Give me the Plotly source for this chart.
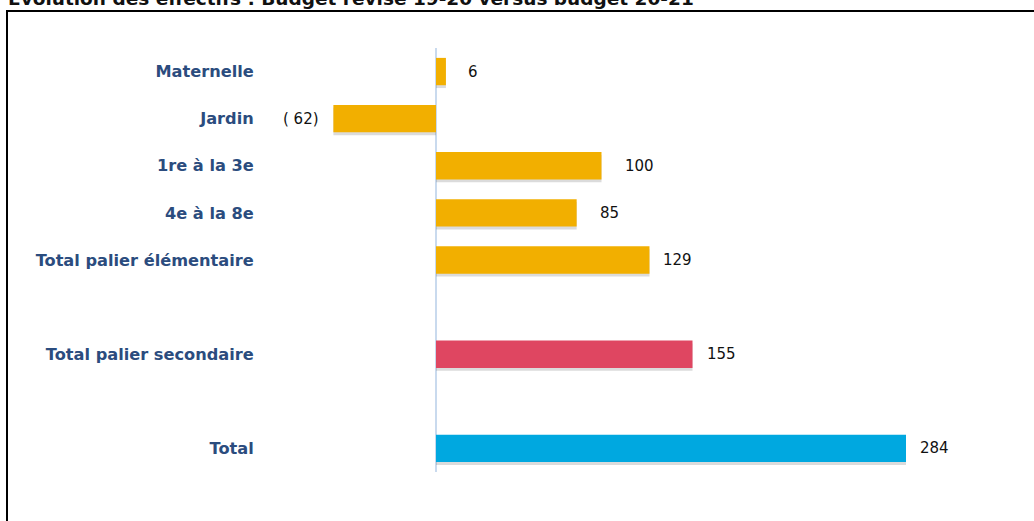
import plotly.graph_objects as go

categories = ["Maternelle", "Jardin", "1re à la 3e", "4e à la 8e",
              "Total palier élémentaire", " ", "Total palier secondaire", "  ", "Total"]
values = [6, -62, 100, 85, 129, None, 155, None, 284]
labels = ["6", "( 62)", "100", "85", "129", "", "155", "", "284"]
colors = ["#F2AF00", "#F2AF00", "#F2AF00", "#F2AF00", "#F2AF00", "#F2AF00",
          "#DF4661", "#DF4661", "#00A8E0"]
title = "Évolution des effectifs : Budget révisé 19-20 versus budget 20-21"

# label gaps (px) from bar end, style only
label_gaps = [20, 12, 22, 21, 12, 0, 12, 0, 12]

W, H = 1034, 521
L, R, T, B = 270, 34, 48, 49
pw, ph = W - L - R, H - T - B
BW = 0.58

def px_x(x):
    return (x - L) / pw

def px_y(y):
    return (H - B - y) / ph

fig = go.Figure()
fig.add_trace(go.Bar(
    y=categories, x=values, orientation="h",
    marker=dict(color="rgba(90,90,90,0.22)", line=dict(width=0)),
    width=BW, offset=-BW / 2 + 0.06, hoverinfo="skip",
))
fig.add_trace(go.Bar(
    y=categories, x=values, orientation="h",
    marker=dict(color=colors, line=dict(width=0)),
    width=BW, offset=-BW / 2, hoverinfo="skip",
))

for cat, v, lab, g in zip(categories, values, labels, label_gaps):
    if v is None:
        continue
    fig.add_annotation(
        x=v, y=cat, text=lab, showarrow=False,
        xanchor="left" if v >= 0 else "right",
        xshift=g if v >= 0 else -g,
        font=dict(family="DejaVu Sans", size=15, color="#111111"),
    )

fig.add_annotation(
    x=px_x(6), y=px_y(11), xref="paper", yref="paper", text="<b>" + title + "</b>",
    showarrow=False, xanchor="left", yanchor="bottom",
    font=dict(family="DejaVu Sans", size=18.5, color="#111111"),
)

fig.add_shape(
    type="rect", xref="paper", yref="paper",
    x0=px_x(7), x1=px_x(1045), y0=px_y(535), y1=px_y(11),
    line=dict(color="black", width=2), fillcolor="rgba(0,0,0,0)", layer="above",
)

fig.update_layout(
    width=W, height=H,
    margin=dict(l=L, r=R, t=T, b=B),
    paper_bgcolor="white", plot_bgcolor="white",
    showlegend=False, barmode="overlay",
    xaxis=dict(range=[-100.3, 340.8], showticklabels=False, showgrid=False,
               zeroline=True, zerolinecolor="#C9DAEE", zerolinewidth=2, fixedrange=True),
    yaxis=dict(categoryorder="array", categoryarray=categories, autorange="reversed",
               showgrid=False, zeroline=False, ticks="outside", ticklen=12,
               tickcolor="rgba(0,0,0,0)",
               tickfont=dict(family="DejaVu Sans", size=16.2, color="#2B4C7E"),
               tickvals=categories,
               ticktext=["<b>" + c + "</b>" if c.strip() else "" for c in categories],
               automargin=False, fixedrange=True),
)

fig.write_html("out.html", config={"displayModeBar": False},
               post_script="document.body.style.margin='0';")
